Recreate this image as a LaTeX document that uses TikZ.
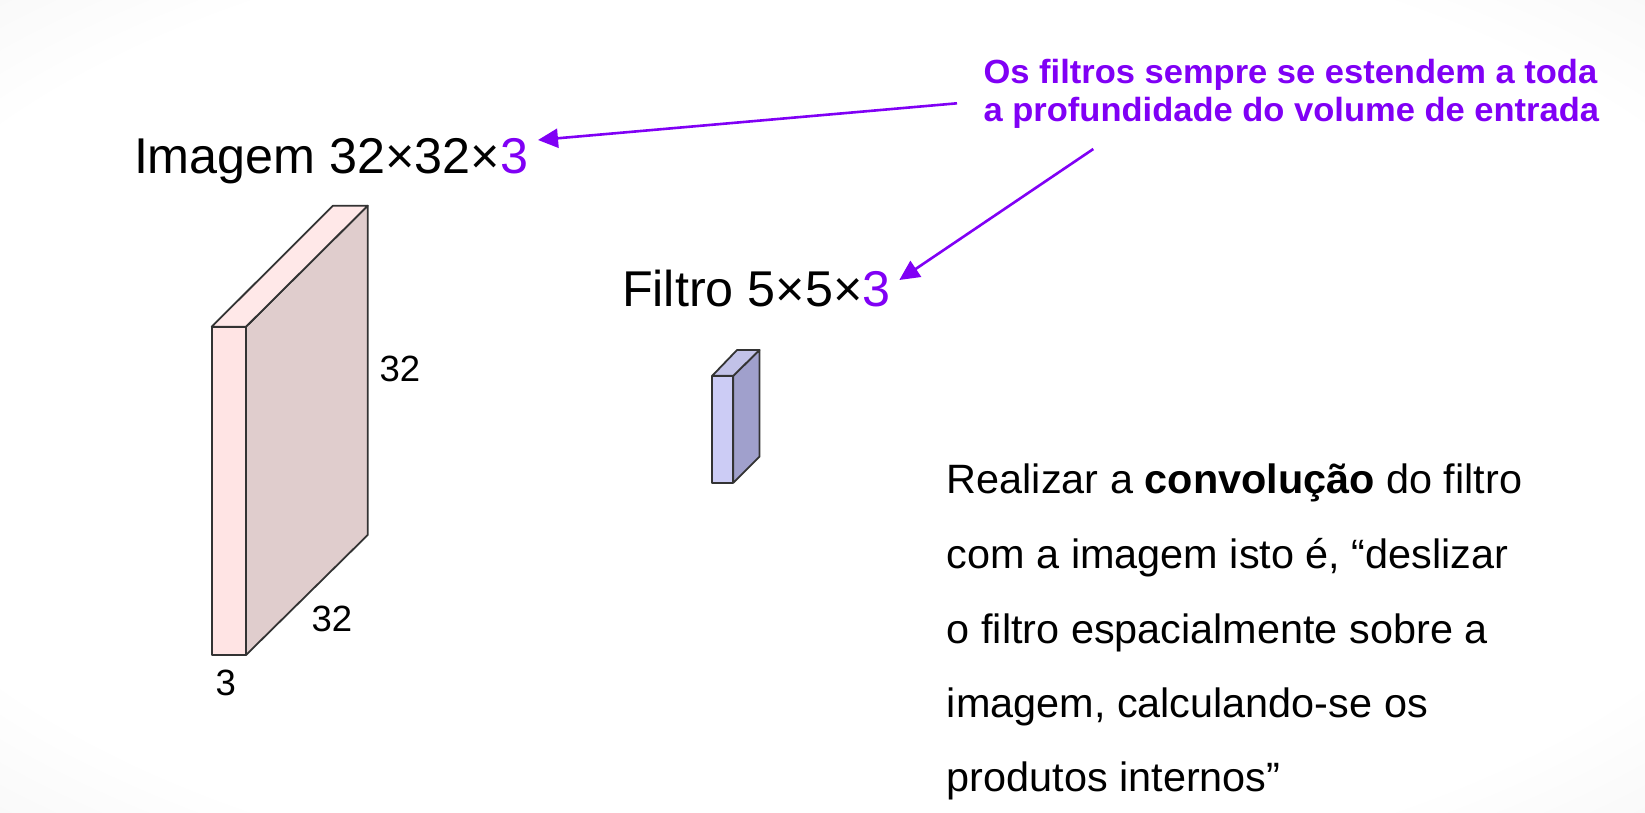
\documentclass[tikz,border=0pt]{standalone}
\usepackage{fontspec}
\setmainfont{Liberation Sans}
\newfontfamily\purplefont[FakeStretch=1.03]{Liberation Sans}
\newfontfamily\bodyfont[FakeStretch=1.01]{Liberation Sans}
\usetikzlibrary{arrows.meta}
\definecolor{vio}{RGB}{128,0,245}
\definecolor{pinkfront}{RGB}{255,228,228}
\definecolor{pinktop}{RGB}{255,232,232}
\definecolor{pinkside}{RGB}{224,205,205}
\definecolor{bluefront}{RGB}{204,204,245}
\definecolor{bluetop}{RGB}{194,194,232}
\definecolor{blueside}{RGB}{160,160,204}
\pgfdeclareradialshading{vignette}{\pgfpoint{0bp}{0bp}}{color(0bp)=(white); color(30bp)=(white); color(56bp)=(black!11); color(72bp)=(black!24)}
\begin{document}
\begin{tikzpicture}[x=1pt,y=-1pt,
  lbl/.style={anchor=base west, inner sep=0pt, outer sep=0pt, text=black},
  bigtxt/.style={lbl, font=\fontsize{50.3}{60}\selectfont},
  numtxt/.style={lbl, font=\fontsize{36.5}{44}\selectfont},
  notetxt/.style={lbl, text=vio, font=\purplefont\bfseries\fontsize{33.5}{40}\selectfont},
  bodytxt/.style={lbl, font=\bodyfont\fontsize{41}{75}\selectfont},
  edge/.style={draw=black!80, line width=1.8pt, line join=round},
  parrow/.style={draw=vio, line width=2.6pt, -{Triangle[length=20pt,width=19pt]}}]
\useasboundingbox (0,0) rectangle (1645,812);
\shade[shading=vignette] (0,0) rectangle (1645,812);

% big image volume
\filldraw[edge, fill=pinkside] (246,326.7) -- (367.7,205.7) -- (367.7,535) -- (246,655) -- cycle;
\filldraw[edge, fill=pinktop] (211.7,326.7) -- (246,326.7) -- (367.7,205.7) -- (333,205.7) -- cycle;
\filldraw[edge, fill=pinkfront] (211.7,326.7) rectangle (246,655);

% small filter volume
\filldraw[edge, fill=blueside] (733.3,375.7) -- (759.5,350) -- (759.5,456.7) -- (733.3,482.7) -- cycle;
\filldraw[edge, fill=bluetop] (712.3,375.7) -- (733.3,375.7) -- (759.5,350) -- (737,350) -- cycle;
\filldraw[edge, fill=bluefront] (712.3,375.7) rectangle (733.3,482.7);

% labels
\node[bigtxt] (img) at (134,173.3) {Imagem 32×32×\textcolor{vio}{3}};
\node[bigtxt] (fil) at (622,306.7) {Filtro 5×5×\textcolor{vio}{3}};
\node[numtxt] (h32) at (379.5,381.7) {32};
\node[numtxt] (w32) at (311.5,631.7) {32};
\node[numtxt] (d3) at (215.5,695) {3};

\node[notetxt] (note1) at (983.6,83.3) {Os filtros sempre se estendem a toda};
\node[notetxt] (note2) at (983.6,121.7) {a profundidade do volume de entrada};

\node[bodytxt] (b1) at (946.8,493.3) {Realizar a \textbf{convolução} do filtro};
\node[bodytxt] (b2) at (946.8,568.3) {com a imagem isto é, “deslizar};
\node[bodytxt] (b3) at (946.8,643.3) {o filtro espacialmente sobre a};
\node[bodytxt] (b4) at (946.8,717) {imagem, calculando-se os};
\node[bodytxt] (b5) at (946.8,791.7) {produtos internos”};

% arrows
\coordinate (s1) at (957,103.3);
\coordinate (t1) at (538,140);
\coordinate (s2) at (1093.3,149);
\coordinate (t2) at (899.3,280);
\draw[parrow] (s1) -- (t1);
\draw[parrow] (s2) -- (t2);
\end{tikzpicture}
\end{document}
